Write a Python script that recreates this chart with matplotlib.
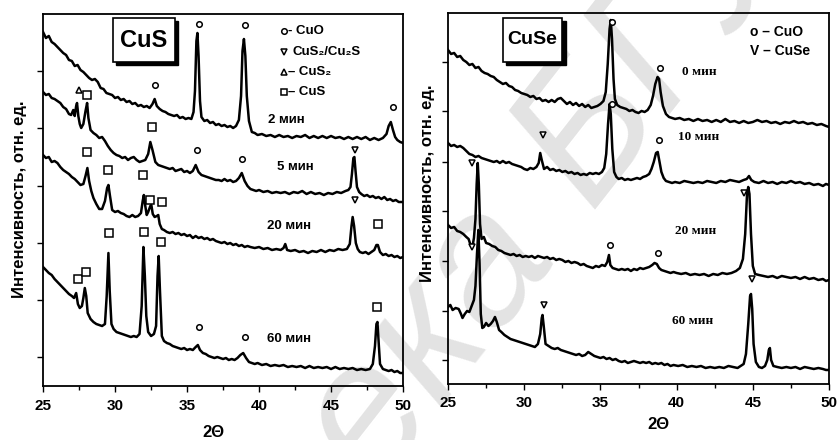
import matplotlib
matplotlib.use('Agg')
import matplotlib.pyplot as plt
from matplotlib.patches import Rectangle

plt.rcParams['font.family'] = ['Liberation Sans', 'DejaVu Sans']
plt.rcParams['font.weight'] = 'bold'

# ---- CuS panel: (2theta, intensity) ----
cus_2min = [(25.0,354),(25.2,348),(25.4,350),(25.6,344),(25.8,342),(26.0,339),(26.2,336),(26.4,333),
            (26.6,331),(26.8,326),(27.0,325),(27.2,320),(27.4,321),(27.6,316),(27.8,314),(28.0,311),
            (28.2,308),(28.4,306),(28.6,307),(28.8,304),(29.0,298),(29.2,297),(29.4,293),(29.6,292),
            (29.8,291),(30.0,288),(30.2,289),(30.4,286),(30.6,287),(30.8,284),(31.0,285),(31.2,282),
            (31.4,283),(31.6,280),(31.8,281),(32.0,279),(32.2,280),(32.4,278),(32.6,282),(32.75,287),
            (32.9,280),(33.1,277),(33.3,275),(33.5,274),(33.7,272),(33.9,271),(34.1,270),(34.3,271),
            (34.5,268),(34.7,269),(34.9,267),(35.1,268),(35.3,267),(35.45,274),(35.55,295),(35.65,345),
            (35.72,353),(35.8,330),(35.9,285),(36.0,269),(36.2,265),(36.4,266),(36.6,263),(36.8,264),
            (37.0,261),(37.2,262),(37.4,260),(37.6,261),(37.8,259),(38.0,260),(38.2,258),(38.4,260),
            (38.6,266),(38.75,290),(38.85,335),(38.95,347),(39.05,330),(39.15,290),(39.3,265),(39.5,254),
            (39.7,253),(39.9,251),(40.2,252),(40.5,250),(40.8,251),(41.1,249),(41.4,251),(41.7,249),
            (42.0,250),(42.3,248),(42.6,250),(42.9,249),(43.2,251),(43.5,248),(43.8,250),(44.1,248),
            (44.4,250),(44.7,248),(45.0,250),(45.3,248),(45.6,249),(45.9,247),(46.2,249),(46.5,247),
            (46.8,249),(47.1,247),(47.4,249),(47.7,246),(48.0,248),(48.3,246),(48.6,248),(48.85,252),
            (49.0,260),(49.15,264),(49.3,256),(49.45,249),(49.6,246),(49.8,244),(50.0,243)]

cus_5min = [(25.0,294),(25.2,291),(25.4,292),(25.6,288),(25.8,287),(26.0,285),(26.2,283),(26.4,279),
            (26.6,277),(26.8,272),(26.95,271),(27.1,276),(27.2,270),(27.3,280),(27.36,283),(27.45,270),
            (27.55,262),(27.65,258),(27.8,262),(27.95,275),(28.06,283),(28.15,268),(28.3,256),(28.5,253),
            (28.7,251),(28.9,248),(29.1,249),(29.3,245),(29.5,240),(29.7,236),(29.9,233),(30.1,231),
            (30.3,230),(30.5,228),(30.7,229),(30.9,226),(31.1,228),(31.3,229),(31.5,226),(31.7,224),
            (31.9,225),(32.1,226),(32.3,232),(32.45,244),(32.6,236),(32.8,224),(33.0,221),(33.2,220),
            (33.4,219),(33.6,218),(33.8,217),(34.0,218),(34.2,215),(34.4,216),(34.6,217),(34.8,214),
            (35.0,215),(35.2,213),(35.4,215),(35.6,221),(35.8,214),(36.0,211),(36.2,210),(36.4,209),
            (36.6,208),(36.8,207),(37.0,206),(37.2,206),(37.4,205),(37.6,207),(37.8,205),(38.0,206),
            (38.2,204),(38.4,205),(38.6,208),(38.8,213),(39.0,205),(39.2,200),(39.4,197),(39.6,196),
            (39.8,195),(40.0,196),(40.3,194),(40.6,195),(40.9,193),(41.2,194),(41.5,193),(41.8,194),
            (42.1,192),(42.4,194),(42.7,193),(43.0,195),(43.3,192),(43.6,194),(43.9,192),(44.2,193),
            (44.5,191),(44.8,193),(45.1,192),(45.4,194),(45.7,193),(46.0,195),(46.2,196),(46.35,199),
            (46.45,212),(46.55,228),(46.62,229),(46.7,215),(46.8,199),(46.95,194),(47.1,192),(47.3,190),
            (47.5,191),(47.7,189),(47.9,190),(48.1,188),(48.3,189),(48.5,187),(48.7,189),(48.9,186),
            (49.1,187),(49.3,185),(49.5,186),(49.7,184),(50.0,184)]

cus_20min = [(25.0,231),(25.2,228),(25.4,229),(25.6,224),(25.8,225),(26.0,223),(26.2,219),(26.4,216),
             (26.6,214),(26.8,212),(27.0,209),(27.2,207),(27.4,204),(27.6,201),(27.8,202),(27.95,210),
             (28.08,218),(28.2,205),(28.35,195),(28.5,188),(28.7,182),(28.9,177),(29.1,177),(29.3,185),
             (29.45,198),(29.54,201),(29.65,190),(29.8,176),(30.0,174),(30.2,175),(30.4,173),(30.6,172),
             (30.8,170),(31.0,169),(31.2,171),(31.4,169),(31.6,170),(31.8,173),(31.92,185),(32.0,191),
             (32.1,180),(32.2,171),(32.3,174),(32.45,180),(32.52,181),(32.62,172),(32.75,169),(32.9,170),
             (33.0,171),(33.1,162),(33.25,157),(33.4,156),(33.6,154),(33.8,153),(34.0,154),(34.2,152),
             (34.4,153),(34.6,151),(34.8,152),(35.0,150),(35.2,151),(35.4,148),(35.6,150),(35.8,148),
             (36.0,149),(36.2,147),(36.4,148),(36.6,146),(36.8,147),(37.0,145),(37.2,144),(37.4,143),
             (37.6,144),(37.8,142),(38.0,143),(38.2,141),(38.4,142),(38.6,140),(38.8,141),(39.0,139),
             (39.2,140),(39.4,139),(39.7,138),(40.0,139),(40.3,137),(40.6,138),(40.9,136),(41.2,137),
             (41.5,136),(41.7,138),(41.82,142),(41.95,136),(42.2,135),(42.5,136),(42.8,134),(43.1,135),
             (43.4,133),(43.7,135),(44.0,134),(44.3,136),(44.6,134),(44.9,136),(45.2,135),(45.5,137),
             (45.8,136),(46.1,137),(46.3,142),(46.42,160),(46.5,169),(46.6,160),(46.72,143),(46.85,137),
             (47.0,134),(47.2,133),(47.4,134),(47.6,132),(47.8,134),(48.0,136),(48.15,141),(48.25,141),
             (48.4,134),(48.6,131),(48.8,132),(49.0,130),(49.2,131),(49.4,129),(49.6,130),(49.8,128),
             (50.0,129)]

cus_60min = [(25.0,119),(25.2,116),(25.4,113),(25.6,111),(25.8,107),(26.0,104),(26.2,101),(26.4,98),
             (26.6,95),(26.8,92),(27.0,90),(27.15,88),(27.3,93),(27.42,82),(27.55,78),(27.7,80),
             (27.8,88),(27.9,98),(28.0,90),(28.1,73),(28.3,67),(28.5,64),(28.7,62),(28.9,61),
             (29.1,60),(29.3,62),(29.42,90),(29.54,133),(29.63,95),(29.75,62),(29.9,57),(30.1,54),
             (30.3,53),(30.5,52),(30.7,51),(30.9,50),(31.1,49),(31.3,50),(31.5,49),(31.7,52),
             (31.85,80),(31.97,139),(32.07,110),(32.17,70),(32.3,54),(32.5,50),(32.7,52),(32.85,60),
             (32.95,110),(33.03,130),(33.12,95),(33.25,50),(33.4,45),(33.6,43),(33.8,42),(34.0,40),
             (34.2,39),(34.4,38),(34.6,37),(34.8,38),(35.0,36),(35.2,37),(35.4,36),(35.6,39),
             (35.75,41),(35.9,36),(36.1,33),(36.3,32),(36.5,30),(36.7,29),(36.9,28),(37.1,29),
             (37.3,28),(37.5,27),(37.7,28),(37.9,26),(38.1,27),(38.3,26),(38.5,28),(38.7,31),
             (38.9,33),(39.1,28),(39.3,24),(39.5,23),(39.7,22),(39.9,23),(40.2,21),(40.5,22),
             (40.8,20),(41.1,21),(41.4,20),(41.7,21),(42.0,19),(42.3,20),(42.6,19),(42.9,20),
             (43.2,18),(43.5,20),(43.8,18),(44.1,19),(44.4,18),(44.7,19),(45.0,17),(45.3,19),
             (45.6,17),(45.9,18),(46.2,17),(46.5,18),(46.8,16),(47.1,17),(47.4,16),(47.7,17),
             (47.9,22),(48.05,40),(48.15,62),(48.22,64),(48.3,45),(48.4,22),(48.6,17),(48.8,16),
             (49.0,15),(49.2,16),(49.4,14),(49.6,15),(49.8,13),(50.0,13)]

# ---- CuSe panel ----
cuse_0min = [(25.0,334),(25.2,330),(25.4,331),(25.6,327),(25.8,328),(26.0,324),(26.2,322),(26.4,319),
             (26.6,320),(26.8,316),(27.0,317),(27.2,313),(27.4,311),(27.6,310),(27.8,308),(28.0,307),
             (28.2,304),(28.4,302),(28.6,300),(28.8,301),(29.0,298),(29.2,297),(29.4,294),(29.6,293),
             (29.8,291),(30.0,290),(30.2,289),(30.4,287),(30.6,288),(30.8,285),(31.0,286),(31.2,283),
             (31.4,284),(31.6,282),(31.8,284),(32.0,282),(32.2,285),(32.4,286),(32.6,283),(32.8,280),
             (33.0,282),(33.2,279),(33.4,281),(33.6,278),(33.8,280),(34.0,277),(34.2,279),(34.4,276),
             (34.6,277),(34.8,278),(35.0,280),(35.2,283),(35.35,292),(35.48,320),(35.6,355),(35.68,364),
             (35.76,345),(35.86,305),(35.95,285),(36.1,279),(36.3,277),(36.5,276),(36.7,275),(36.9,273),
             (37.1,274),(37.3,272),(37.5,271),(37.7,273),(37.9,272),(38.1,274),(38.3,279),(38.45,288),
             (38.6,300),(38.75,307),(38.85,305),(38.95,292),(39.1,278),(39.3,270),(39.5,267),(39.7,266),
             (39.9,265),(40.2,266),(40.5,264),(40.8,265),(41.1,263),(41.4,265),(41.7,263),(42.0,264),
             (42.3,262),(42.6,264),(42.9,262),(43.2,265),(43.5,262),(43.8,263),(44.1,261),(44.4,263),
             (44.7,261),(45.0,262),(45.3,264),(45.6,262),(45.9,263),(46.2,261),(46.5,262),(46.8,260),
             (47.1,262),(47.4,261),(47.7,263),(48.0,261),(48.3,262),(48.6,260),(48.9,261),(49.2,259),
             (49.5,260),(49.8,258),(50.0,257)]

cuse_10min = [(25.0,241),(25.2,238),(25.4,239),(25.6,237),(25.8,238),(26.0,236),(26.2,233),(26.4,230),
              (26.6,229),(26.8,227),(27.0,228),(27.2,226),(27.4,225),(27.6,224),(27.8,223),(28.0,222),
              (28.2,223),(28.4,221),(28.6,223),(28.8,221),(29.0,222),(29.2,220),(29.4,219),(29.6,218),
              (29.8,217),(30.0,215),(30.2,214),(30.4,216),(30.6,215),(30.8,217),(30.95,221),(31.05,231),
              (31.15,224),(31.3,215),(31.5,217),(31.7,214),(31.9,215),(32.1,213),(32.3,214),(32.5,212),
              (32.7,213),(32.9,211),(33.1,212),(33.3,210),(33.5,211),(33.7,209),(33.9,210),(34.1,209),
              (34.3,211),(34.5,210),(34.7,211),(34.9,210),(35.1,212),(35.25,216),(35.38,230),(35.5,260),
              (35.6,280),(35.68,270),(35.78,235),(35.9,212),(36.05,207),(36.2,205),(36.4,206),(36.6,204),
              (36.8,205),(37.0,204),(37.2,205),(37.4,206),(37.6,205),(37.8,207),(38.0,208),(38.2,210),
              (38.35,215),(38.5,222),(38.65,231),(38.76,232),(38.88,222),(39.0,212),(39.15,206),(39.3,203),
              (39.5,202),(39.7,201),(39.9,202),(40.2,201),(40.5,203),(40.8,202),(41.1,201),(41.4,202),
              (41.7,201),(42.0,203),(42.3,202),(42.6,201),(42.9,203),(43.2,202),(43.5,204),(43.8,203),
              (44.1,202),(44.4,204),(44.6,205),(44.75,208),(44.9,204),(45.1,202),(45.4,201),(45.7,203),
              (46.0,201),(46.3,202),(46.6,200),(46.9,202),(47.2,201),(47.5,203),(47.8,201),(48.1,202),
              (48.4,200),(48.7,201),(49.0,199),(49.3,200),(49.6,198),(49.8,200),(50.0,199)]

cuse_20min = [(25.0,159),(25.2,156),(25.4,157),(25.6,153),(25.8,152),(26.0,150),(26.2,147),(26.35,145),
              (26.5,138),(26.6,137),(26.7,146),(26.8,165),(26.88,200),(26.95,221),(27.02,200),(27.1,160),
              (27.2,145),(27.35,147),(27.5,141),(27.7,140),(27.9,138),(28.1,137),(28.3,134),(28.5,133),
              (28.7,131),(28.9,130),(29.1,129),(29.3,130),(29.5,128),(29.7,129),(29.9,127),(30.1,128),
              (30.3,127),(30.5,128),(30.7,126),(30.9,128),(31.1,127),(31.3,126),(31.5,127),(31.7,125),
              (31.9,126),(32.1,124),(32.3,125),(32.5,124),(32.7,122),(32.9,123),(33.1,121),(33.3,122),
              (33.5,121),(33.7,119),(33.9,120),(34.1,118),(34.3,117),(34.5,116),(34.7,118),(34.9,117),
              (35.1,119),(35.3,118),(35.45,122),(35.56,129),(35.65,119),(35.8,116),(36.0,115),(36.2,114),
              (36.4,115),(36.6,114),(36.8,115),(37.0,113),(37.2,115),(37.4,114),(37.6,116),(37.8,115),
              (38.0,116),(38.2,117),(38.4,119),(38.55,121),(38.7,120),(38.85,116),(39.0,114),(39.2,113),
              (39.4,112),(39.6,111),(39.8,112),(40.0,111),(40.3,110),(40.6,111),(40.9,109),(41.2,110),
              (41.5,109),(41.8,110),(42.1,108),(42.4,110),(42.7,109),(43.0,111),(43.3,110),(43.6,111),
              (43.9,113),(44.15,116),(44.35,125),(44.5,150),(44.62,190),(44.7,197),(44.78,190),(44.88,150),
              (45.0,118),(45.15,110),(45.4,109),(45.7,108),(46.0,107),(46.3,108),(46.6,106),(46.9,108),
              (47.2,107),(47.5,106),(47.8,107),(48.1,105),(48.4,107),(48.7,105),(49.0,106),(49.3,104),
              (49.6,105),(49.8,103),(50.0,104)]

cuse_60min = [(25.0,77),(25.15,79),(25.3,74),(25.5,76),(25.7,75),(25.85,70),(25.95,66),(26.1,70),
              (26.25,73),(26.4,72),(26.55,78),(26.7,84),(26.8,98),(26.9,130),(26.99,154),(27.07,120),
              (27.15,70),(27.25,56),(27.35,57),(27.5,61),(27.65,58),(27.8,60),(27.95,63),(28.08,67),
              (28.2,62),(28.35,54),(28.5,52),(28.7,49),(28.9,47),(29.1,45),(29.3,44),(29.5,43),
              (29.7,42),(29.9,41),(30.1,40),(30.3,39),(30.5,38),(30.7,37),(30.9,40),(31.05,50),
              (31.15,66),(31.2,69),(31.28,58),(31.4,40),(31.6,38),(31.8,36),(32.0,35),(32.2,36),
              (32.4,34),(32.6,33),(32.8,32),(33.0,31),(33.2,30),(33.4,29),(33.6,30),(33.8,28),
              (34.0,29),(34.2,32),(34.4,30),(34.6,28),(34.8,27),(35.0,26),(35.2,27),(35.4,25),
              (35.6,26),(35.8,24),(36.0,25),(36.2,23),(36.4,22),(36.6,23),(36.8,21),(37.0,22),
              (37.2,23),(37.4,22),(37.6,21),(37.8,22),(38.0,21),(38.2,22),(38.4,20),(38.6,21),
              (38.8,20),(39.0,21),(39.2,19),(39.4,20),(39.6,18),(39.8,19),(40.1,18),(40.4,19),
              (40.7,17),(41.0,18),(41.3,17),(41.6,18),(41.9,16),(42.2,17),(42.5,16),(42.8,17),
              (43.1,16),(43.4,18),(43.7,17),(44.0,16),(44.2,18),(44.4,20),(44.55,30),(44.7,60),
              (44.82,88),(44.88,90),(44.96,75),(45.05,40),(45.2,22),(45.4,17),(45.6,16),(45.8,18),
              (45.95,24),(46.05,34),(46.12,36),(46.2,24),(46.35,18),(46.6,17),(46.9,16),(47.2,17),
              (47.5,16),(47.8,17),(48.1,15),(48.4,17),(48.7,16),(49.0,15),(49.3,16),(49.6,15),
              (49.8,14),(50.0,14)]

# phase markers (2theta, intensity)
cus_cuo = [(35.8,362),(39.0,361),(32.78,301),(49.3,279),(35.7,236),(38.8,227),(35.8,59),(39.0,49)]
cus_cus = [(28.06,291),(32.6,259),(28.05,234),(29.5,216),(31.95,211),(32.4,186),(33.26,184),
           (48.26,162),(29.6,153),(32.0,154),(33.2,144),(27.4,107),(28.0,114),(48.2,79)]
cus_cus2 = [(27.5,296)]
cus_cu2s = [(46.67,236),(46.67,186)]
cuse_cuo = [(35.75,362),(38.9,316),(35.75,280),(38.85,244),(35.6,139),(38.8,131)]
cuse_cuse = [(31.2,249),(26.6,221),(44.4,191),(26.6,137),(31.3,79),(44.95,105)]

cus_labels = [('2 мин', 40.6, 266), ('5 мин', 41.25, 219), ('20 мин', 40.55, 160), ('60 мин', 40.55, 47)]
cuse_labels = [('0 мин', 40.35, 312), ('10 мин', 40.1, 247), ('20 мин', 39.9, 153), ('60 мин', 39.7, 63)]

cus_yticks = [29, 86, 143, 200, 258, 315]
cuse_yticks = [24, 73, 123, 173, 222, 273, 322]

fig = plt.figure(figsize=(8.39, 4.40), dpi=100)
ax1 = fig.add_axes([0.0513, 0.1227, 0.4291, 0.8455])
ax2 = fig.add_axes([0.5340, 0.1273, 0.4541, 0.8432])

# watermark of the scan (light grey, drawn under the axes)
wm = dict(fontsize=135, style='italic', weight='normal', color='#e3e3e3', rotation=52,
          va='baseline', rotation_mode='anchor', zorder=-5)
fig.text(557 / 839, 1 - 253 / 440, 'Библиотека', ha='right', **wm)
fig.text(590 / 839, 1 - 210 / 440, 'БГУ', ha='left', **wm)


def draw_curve(ax, pts):
    tt, ii = zip(*pts)
    ax.plot(tt, ii, color='black', lw=1.8, zorder=3)


def draw_marks(ax, pts, marker, size):
    tt, ii = zip(*pts)
    ax.plot(tt, ii, ls='none', marker=marker, ms=size, mfc='white', mec='black', mew=1.1, zorder=4)


def style_axes(ax, ymax, yticks):
    ax.set_xlim(25, 50)
    ax.set_ylim(0, ymax)
    ax.set_xticks([25, 30, 35, 40, 45, 50])
    ax.set_xticks([27.5, 32.5, 37.5, 42.5, 47.5], minor=True)
    ax.set_yticks(yticks)
    ax.set_yticklabels([])
    ax.tick_params(axis='x', labelsize=11, width=1, length=4, pad=5)
    ax.tick_params(axis='x', which='minor', width=1, length=3)
    ax.tick_params(axis='y', width=1, length=4)
    for lbl in ax.get_xticklabels():
        lbl.set_fontweight('bold')
    for sp in ax.spines.values():
        sp.set_linewidth(1.3)
    ax.patch.set_alpha(0)


def shadow_box(ax, x0, y0, x1, y1, text, size):
    dx, dy = 0.009, 0.009
    ax.add_patch(Rectangle((x0 + dx, y0 - dy), x1 - x0, y1 - y0, transform=ax.transAxes,
                           facecolor='black', edgecolor='black', zorder=5, clip_on=False))
    ax.add_patch(Rectangle((x0, y0), x1 - x0, y1 - y0, transform=ax.transAxes,
                           facecolor='white', edgecolor='black', lw=1.2, zorder=6, clip_on=False))
    ax.text((x0 + x1) / 2, (y0 + y1) / 2, text, transform=ax.transAxes, ha='center', va='center',
            fontsize=size, fontweight='bold', zorder=7)


# ---------- CuS ----------
for c in [cus_2min, cus_5min, cus_20min, cus_60min]:
    draw_curve(ax1, c)
draw_marks(ax1, cus_cuo, 'o', 4)
draw_marks(ax1, cus_cus, 's', 5.5)
draw_marks(ax1, cus_cus2, '^', 5)
draw_marks(ax1, cus_cu2s, 'v', 5)
for txt, x, y in cus_labels:
    ax1.text(x, y, txt, fontsize=9.5, fontweight='bold', ha='left', va='center')

leg_x = 41.7
draw_marks(ax1, [(leg_x, 355)], 'o', 4)
draw_marks(ax1, [(leg_x, 334)], 'v', 5)
draw_marks(ax1, [(leg_x, 314)], '^', 5)
draw_marks(ax1, [(leg_x, 294)], 's', 5)
ax1.text(42.0, 355, '- CuO', fontsize=9.5, fontweight='bold', va='center')
ax1.text(42.3, 334, 'CuS₂/Cu₂S', fontsize=9.5, fontweight='bold', va='center')
ax1.text(42.0, 314, '– CuS₂', fontsize=9.5, fontweight='bold', va='center')
ax1.text(42.0, 294, '– CuS', fontsize=9.5, fontweight='bold', va='center')

style_axes(ax1, 372, cus_yticks)
shadow_box(ax1, 0.194, 0.871, 0.367, 0.989, 'CuS', 17)
ax1.set_ylabel('Интенсивность, отн. ед.', fontsize=12, fontweight='bold')
ax1.yaxis.set_label_coords(-0.045, 0.503)
ax1.set_xlabel('2Θ', fontsize=12, fontweight='bold')
ax1.xaxis.set_label_coords(0.472, -0.105)

# ---------- CuSe ----------
for c in [cuse_0min, cuse_10min, cuse_20min, cuse_60min]:
    draw_curve(ax2, c)
draw_marks(ax2, cuse_cuo, 'o', 4)
draw_marks(ax2, cuse_cuse, 'v', 5)
for txt, x, y in cuse_labels:
    ax2.text(x, y, txt, fontsize=9.5, fontweight='bold', ha='left', va='center',
             family=['Liberation Serif', 'DejaVu Serif'])
ax2.text(44.8, 352, 'o – CuO', fontsize=10, fontweight='bold', va='center')
ax2.text(44.8, 333, 'V – CuSe', fontsize=10, fontweight='bold', va='center')

style_axes(ax2, 371, cuse_yticks)
shadow_box(ax2, 0.143, 0.868, 0.300, 0.987, 'CuSe', 14)
ax2.set_ylabel('Интенсивность, отн. ед.', fontsize=12, fontweight='bold')
ax2.yaxis.set_label_coords(-0.034, 0.542)
ax2.set_xlabel('2Θ', fontsize=12, fontweight='bold')
ax2.xaxis.set_label_coords(0.551, -0.09)

fig.savefig('out.png', dpi=100)
